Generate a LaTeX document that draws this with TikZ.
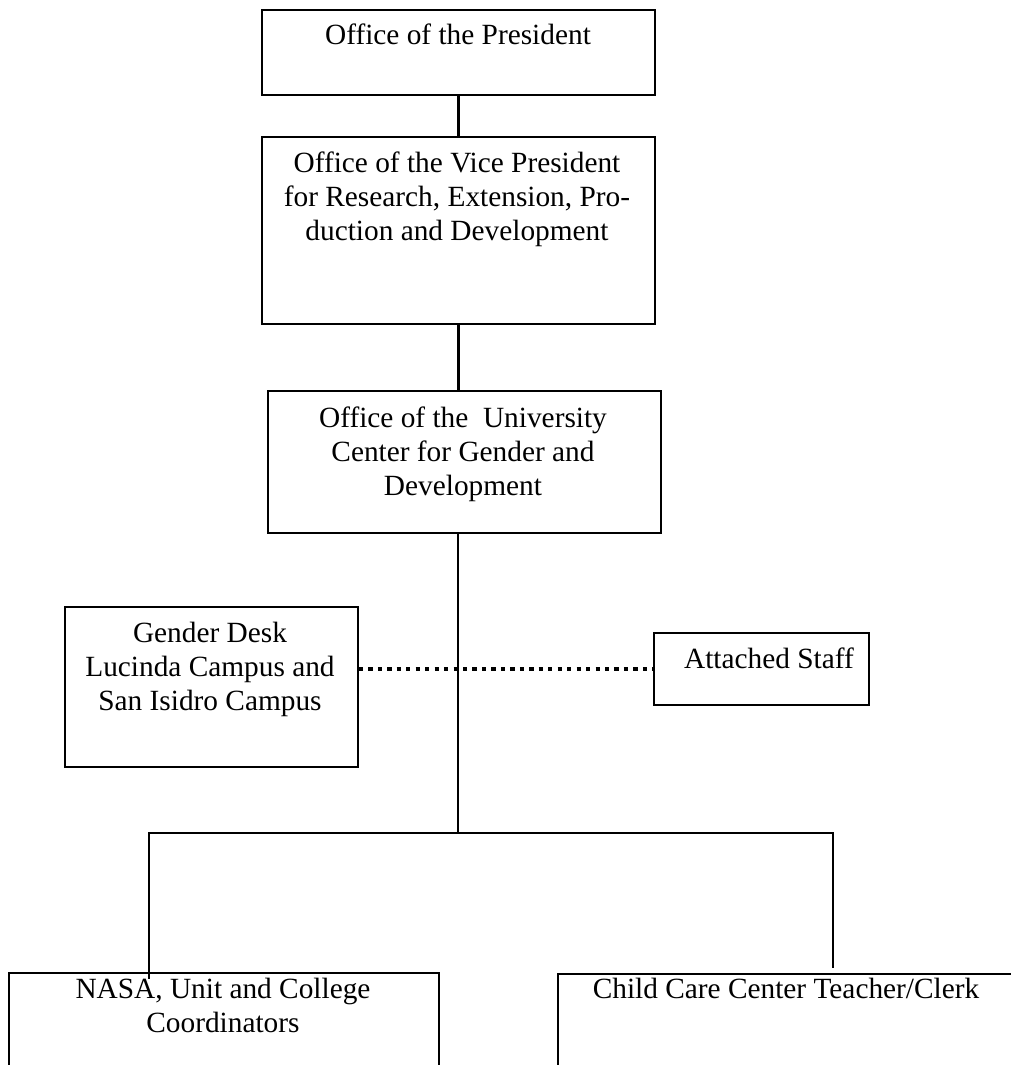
\documentclass[tikz,border=0pt]{standalone}
\usepackage{fontspec}
\setmainfont{Liberation Serif}
\begin{document}
\begin{tikzpicture}[x=0.75pt,y=-0.75pt,
  box/.style={draw=black,line width=1.4pt,rectangle,inner sep=0pt,anchor=north west},
  txt/.style={align=center,inner sep=0pt,anchor=base,font=\fontsize{22}{25.5}\selectfont},
  link/.style={line width=2.1pt},
  dots/.style={line width=3.2pt,dash pattern=on 3.2pt off 3.9pt}]
\useasboundingbox (0,0) rectangle (1011,1065);
\clip (0,0) rectangle (1011,1065);

% boxes
\node[box,minimum width=294.75pt,minimum height=63.75pt]  (pres)     at (261,9)   {};
\node[box,minimum width=294.75pt,minimum height=140.25pt] (vp)       at (261,136) {};
\node[box,minimum width=294.75pt,minimum height=106.5pt]  (ucgd)     at (267,390) {};
\node[box,minimum width=219.75pt,minimum height=120pt]    (desk)     at (64,606)  {};
\node[box,minimum width=161.25pt,minimum height=54pt]     (attached) at (653,632) {};
\node[box,minimum width=322.5pt,minimum height=96pt]      (nasa)     at (8,972)   {};
\node[box,minimum width=369.75pt,minimum height=96pt]     (child)    at (557,973) {};

% labels (anchored on the baseline of their last line)
\node[txt] (presT)     at (458,44)  {Office of the President};
\node[txt] (vpT)       at (457,240) {Office of the Vice President\\for Research, Extension, Pro-\\duction and Development};
\node[txt] (ucgdT)     at (463,495) {Office of the\ \ University\\Center for Gender and\\Development};
\node[txt] (deskT)     at (210,710) {Gender Desk\\Lucinda Campus and\\San Isidro Campus};
\node[txt] (attachedT) at (769,668) {Attached Staff};
\node[txt] (nasaT)     at (223,1032) {NASA, Unit and College\\Coordinators};
\node[txt] (childT)    at (786,998) {Child Care Center Teacher/Clerk};

% connector points
\coordinate (bus)   at (458,833);
\coordinate (busL)  at (149,833);
\coordinate (busR)  at (833,833);
\coordinate (dropL) at (149,978);
\coordinate (dropR) at (833,967);

% connectors
\draw[link] (pres.south) -- (vp.north);
\draw[link] (vp.south) -- (vp.south |- ucgd.north);
\draw[link] (bus |- ucgd.south) -- (bus);
\draw[link,line cap=rect] (dropL) -- (busL) -- (busR) -- (dropR);
\draw[dots] (desk.east |- attached.west) -- (attached.west);
\end{tikzpicture}
\end{document}
